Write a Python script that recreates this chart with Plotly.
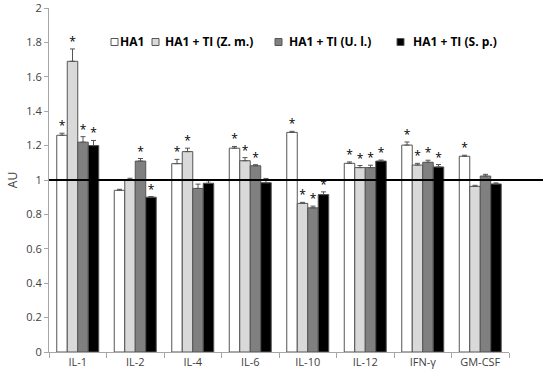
import plotly.graph_objects as go

categories = ["IL-1", "IL-2", "IL-4", "IL-6", "IL-10", "IL-12", "IFN-γ", "GM-CSF"]
series_names = ["HA1", "HA1 + TI (Z. m.)", "HA1 + TI (U. l.)", "HA1 + TI (S. p.)"]

ha1 =     [1.26, 0.94, 1.095, 1.185, 1.277, 1.097, 1.203, 1.138]
ha1_zm =  [1.69, 1.00, 1.165, 1.112, 0.864, 1.072, 1.087, 0.963]
ha1_ul =  [1.22, 1.11, 0.951, 1.083, 0.838, 1.072, 1.103, 1.023]
ha1_sp =  [1.20, 0.90, 0.981, 0.984, 0.915, 1.110, 1.076, 0.977]

err_ha1 = [0.012, 0.006, 0.025, 0.010, 0.006, 0.008, 0.018, 0.006]
err_zm =  [0.072, 0.010, 0.020, 0.018, 0.006, 0.012, 0.010, 0.006]
err_ul =  [0.032, 0.015, 0.025, 0.006, 0.010, 0.014, 0.012, 0.010]
err_sp =  [0.030, 0.004, 0.015, 0.025, 0.016, 0.006, 0.014, 0.006]

# significance stars (1 = marked)
sig_ha1 = [1, 0, 1, 1, 1, 1, 1, 1]
sig_zm =  [1, 0, 1, 1, 1, 1, 1, 0]
sig_ul =  [1, 1, 0, 1, 1, 1, 1, 0]
sig_sp =  [1, 1, 0, 0, 1, 1, 1, 0]

y_ticks = [0, 0.2, 0.4, 0.6, 0.8, 1, 1.2, 1.4, 1.6, 1.8, 2]
y_tick_labels = ["0", "0.2", "0.4", "0.6", "0.8", "1", "1.2", "1.4", "1.6", "1.8", "2"]

colors = ["#ffffff", "#d9d9d9", "#808080", "#000000"]

values = [ha1, ha1_zm, ha1_ul, ha1_sp]
errors = [err_ha1, err_zm, err_ul, err_sp]
sigs = [sig_ha1, sig_zm, sig_ul, sig_sp]

W, H = 550, 380
# plot area in window pixels: x 49..509, y 8..352
L, R, T, B = 49, 550 - 509, 8, 380 - 352
PW, PH = W - L - R, H - T - B

def px(x):
    return (x - L) / PW

def py(y):
    return 1 - (y - T) / PH

fig = go.Figure()
for i, name in enumerate(series_names):
    fig.add_trace(go.Bar(
        x=categories, y=values[i], name=name, offsetgroup=str(i),
        marker=dict(color=colors[i], line=dict(color="#555555", width=1)),
        error_y=dict(type="data", array=errors[i], symmetric=False,
                     arrayminus=[0]*len(categories), color="#555555",
                     thickness=1, width=2.5),
        showlegend=False,
    ))
for i, name in enumerate(series_names):
    ys = [v + e if s else None for v, e, s in zip(values[i], errors[i], sigs[i])]
    fig.add_trace(go.Scatter(
        x=categories, y=ys, mode="text", text=["*"]*len(categories),
        textposition="top center", offsetgroup=str(i), showlegend=False,
        textfont=dict(size=12, color="#000000", family="Open Sans"),
        hoverinfo="skip", cliponaxis=False,
    ))

fig.add_shape(type="line", xref="paper", yref="y", x0=0, x1=px(543), y0=1, y1=1,
              line=dict(color="#000000", width=2))

# manual legend (boxes + labels)
legend_box_x = [111, 152, 275, 397]
legend_text_x = [118, 163, 287, 411]
legend_y = 42
for i, name in enumerate(series_names):
    bx = legend_box_x[i]
    fig.add_shape(type="rect", xref="paper", yref="paper",
                  x0=px(bx), x1=px(bx + 7), y0=py(legend_y + 3.5), y1=py(legend_y - 3.5),
                  fillcolor=colors[i], line=dict(color="#555555", width=1))
    fig.add_annotation(xref="paper", yref="paper", x=px(legend_text_x[i]), y=py(legend_y),
                       xanchor="left", yanchor="middle", showarrow=False,
                       text="<b>" + name + "</b>",
                       font=dict(size=12, color="#000000", family="Open Sans"))

fig.update_layout(
    width=W, height=H,
    margin=dict(l=L, r=R, t=T, b=B, pad=0),
    paper_bgcolor="white", plot_bgcolor="white",
    barmode="group", bargap=0.27, bargroupgap=0,
    scattermode="group", scattergap=0.27,
    font=dict(family="Open Sans", size=11, color="#404040"),
    showlegend=False,
    yaxis=dict(range=[0, 2], tickvals=y_ticks, ticktext=y_tick_labels, showgrid=False,
               showline=True, linecolor="#a6a6a6", linewidth=1,
               ticks="outside", ticklen=4, tickcolor="#a6a6a6",
               ticklabeloverflow="allow",
               title=dict(text="AU", standoff=6, font=dict(size=12, color="#404040")),
               zeroline=False, automargin=False),
    xaxis=dict(showline=True, linecolor="#a6a6a6", linewidth=1,
               ticks="outside", ticklen=5, tickcolor="#a6a6a6",
               tickson="boundaries", showgrid=False, automargin=False),
)
fig.write_html("out.html", config={"displayModeBar": False},
               post_script="document.body.style.margin='0';")
